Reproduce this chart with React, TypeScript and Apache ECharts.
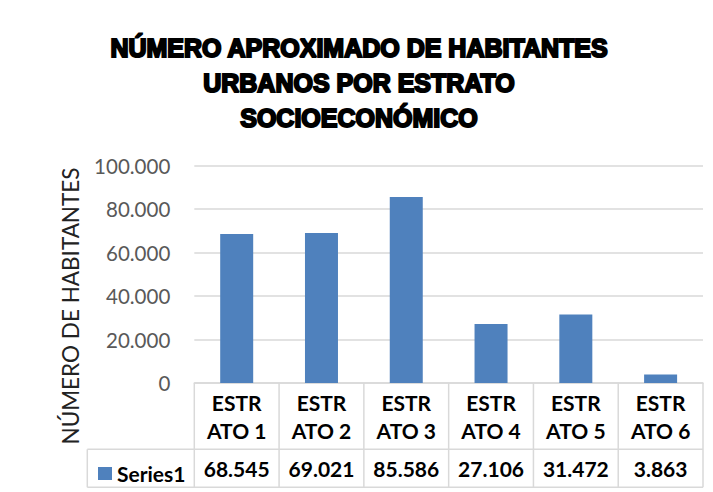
import React, { useEffect, useRef } from "react";
import * as echarts from "echarts";

const categories = ["ESTRATO 1", "ESTRATO 2", "ESTRATO 3", "ESTRATO 4", "ESTRATO 5", "ESTRATO 6"];
const seriesName = "Series1";
const values = [68545, 69021, 85586, 27106, 31472, 3863];
const titleLines = ["NÚMERO APROXIMADO DE HABITANTES", "URBANOS POR ESTRATO", "SOCIOECONÓMICO"];
const yAxisTitle = "NÚMERO DE HABITANTES";
const yMax = 100000;
const yInterval = 20000;

const fmt = (n: number) => String(n).replace(/\B(?=(\d{3})+(?!\d))/g, ".");

const W = 713;
const H = 492;
const GRID_LEFT = 194.3;
const GRID_RIGHT = 703;
const GRID_TOP = 165.7;
const GRID_BOTTOM = 383;
const ROW_DIV = 449.3;
const TABLE_BOTTOM = 487.3;
const LEGEND_LEFT = 87.3;
const BORDER = "#d9d9d9";

export default function App() {
  const ref = useRef<HTMLDivElement>(null);
  useEffect(() => {
    if (!ref.current) return;
    const chart = echarts.init(ref.current, undefined, { renderer: "svg" });
    const colW = (GRID_RIGHT - GRID_LEFT) / categories.length;
    const lines: any[] = [];
    const ln = (x1: number, y1: number, x2: number, y2: number) =>
      lines.push({
        type: "line",
        shape: { x1, y1, x2, y2 },
        style: { stroke: BORDER, lineWidth: 1.5 },
        silent: true,
      });
    ln(LEGEND_LEFT, ROW_DIV, GRID_RIGHT, ROW_DIV);
    ln(LEGEND_LEFT, TABLE_BOTTOM, GRID_RIGHT, TABLE_BOTTOM);
    ln(LEGEND_LEFT, ROW_DIV, LEGEND_LEFT, TABLE_BOTTOM);
    for (let i = 0; i <= categories.length; i++) {
      const x = GRID_LEFT + i * colW;
      ln(x, GRID_BOTTOM, x, TABLE_BOTTOM);
    }
    chart.setOption({
      animation: false,
      backgroundColor: "#fff",
      grid: {
        left: GRID_LEFT,
        right: W - GRID_RIGHT,
        top: GRID_TOP,
        bottom: H - GRID_BOTTOM,
        containLabel: false,
      },
      legend: {
        data: [seriesName],
        left: 93,
        top: 458,
        icon: "rect",
        itemWidth: 14,
        itemHeight: 13,
        textStyle: { fontFamily: "Lato", fontWeight: "bold", fontSize: 21, color: "#000" },
      },
      xAxis: [
        {
          type: "category",
          data: categories,
          position: "bottom",
          axisLine: { show: true, lineStyle: { color: BORDER, width: 1.5 } },
          axisTick: { show: false },
          axisLabel: {
            formatter: (v: string) => v.slice(0, 4) + "\n" + v.slice(4),
            fontFamily: "Lato",
            fontWeight: "bold",
            fontSize: 21,
            color: "#000",
            lineHeight: 28,
            verticalAlign: "middle",
            margin: 33,
            interval: 0,
          },
        },
        {
          type: "category",
          data: values.map(fmt),
          position: "bottom",
          axisLine: { show: false },
          axisTick: { show: false },
          axisLabel: {
            fontFamily: "Lato",
            fontWeight: "bold",
            fontSize: 21,
            color: "#000",
            verticalAlign: "middle",
            margin: 85,
            interval: 0,
          },
        },
      ],
      yAxis: {
        type: "value",
        min: 0,
        max: yMax,
        interval: yInterval,
        axisLine: { show: false },
        axisTick: { show: false },
        splitLine: { lineStyle: { color: BORDER, width: 1.5 } },
        axisLabel: {
          formatter: (v: number) => fmt(v),
          fontFamily: "Lato",
          fontSize: 20.5,
          color: "#595959",
          margin: 24,
        },
      },
      series: [
        {
          name: seriesName,
          type: "bar",
          data: values,
          barWidth: 33,
          itemStyle: { color: "#4f81bd" },
        },
      ],
      graphic: [
        {
          type: "text",
          x: 359,
          y: 30,
          style: {
            text: titleLines.join("\n"),
            align: "center",
            verticalAlign: "top",
            fontFamily: "Liberation Sans",
            fontWeight: "bold",
            fontSize: 25,
            lineHeight: 35,
            fill: "#000",
            stroke: "#000",
            lineWidth: 2,
          },
        },
        {
          type: "text",
          x: 70,
          y: 306,
          rotation: Math.PI / 2,
          style: {
            text: yAxisTitle,
            align: "center",
            verticalAlign: "middle",
            fontFamily: "Lato",
            fontSize: 22.5,
            fill: "#222",
          },
        },
        ...lines,
      ],
    });
    return () => chart.dispose();
  }, []);
  return (
    <div
      ref={ref}
      style={{ position: "fixed", left: 0, top: 0, width: W, height: H }}
    />
  );
}
